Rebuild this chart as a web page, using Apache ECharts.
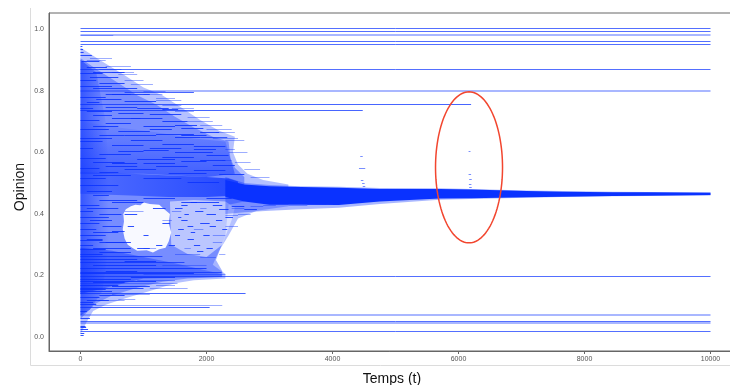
<!DOCTYPE html>
<html><head><meta charset="utf-8">
<script src="https://cdn.jsdelivr.net/npm/echarts@6/dist/echarts.min.js"></script>
<style>html,body{margin:0;padding:0;background:#fff}#c{width:730px;height:385px}</style>
</head><body><div id="c"></div>
<script>
// ---- tick labels ----
const xTicks = [0, 2000, 4000, 6000, 8000, 10000];
const yTicks = [0.0, 0.2, 0.4, 0.6, 0.8, 1.0];

// ---- persistent opinions (t = 0 .. 10000) ----
const fullStrong = [1.003, 0.993, 0.961, 0.952, 0.87, 0.198, 0.051, 0.0205];
const fullFaint = [0.979, 0.798, 0.0715, 0.0445];

// ---- long partial segments [tStart, tEnd, opinion] ----
const longStrong = [[0,6200,0.756],[0,4480,0.737],[700,1800,0.795],[0,2620,0.143],[0,2050,0.098],[1900,2330,0.649],[0,2240,0.21],[0,1650,0.243],[0,1300,0.263]];
const longFaint = [[0,520,0.982],[220,2250,0.104],[0,1540,0.175],[600,870,0.124],[1100,1700,0.16],[900,1500,0.187],[1000,2300,0.205]];

// ---- isolated late opinions ----
const lateDots = [[4440,4480,0.588],[4420,4520,0.548],[4450,4490,0.51],[4470,4510,0.50],[4480,4520,0.49],[6160,6190,0.605],[6160,6200,0.529],[6170,6210,0.512],[6165,6205,0.497],[6170,6210,0.488]];

// ---- cloud texture segments [tStart, tEnd, opinion] ----
const cloudStrong = [
 [0,180,0.915],[20,300,0.895],[100,420,0.878],[0,350,0.858],[150,600,0.845],[0,250,0.835],[300,700,0.825],[0,500,0.815],[200,900,0.808],
 [500,1100,0.788],[0,400,0.78],[250,650,0.772],[700,1200,0.768],[100,300,0.762],[400,900,0.748],[900,1400,0.745],[0,200,0.745],
 [600,1000,0.728],[1100,1600,0.725],[200,500,0.72],[0,300,0.705],[800,1300,0.71],[1300,1700,0.70],[400,800,0.695],[1000,1500,0.685],
 [1600,1950,0.68],[0,450,0.675],[600,1100,0.668],[1200,1800,0.66],[1900,2200,0.665],[300,700,0.655],[1500,1900,0.648],[800,1300,0.64],
 [0,350,0.635],[1300,1800,0.628],[500,1000,0.622],[1800,2300,0.62],[0,200,0.615],[1000,1400,0.607],[1500,2100,0.60],[300,800,0.595],
 [2000,2350,0.59],[0,400,0.582],[900,1500,0.578],[1600,2000,0.572],[500,900,0.565],[2100,2450,0.56],[1200,1700,0.555],[0,300,0.55],
 [700,1200,0.545],[1800,2300,0.542],[300,600,0.535],[1400,2000,0.532],[2200,2600,0.53],
 [0,300,0.43],[100,600,0.42],[0,200,0.41],[300,650,0.40],[0,450,0.39],[150,500,0.38],[0,300,0.37],[350,650,0.36],[0,250,0.35],
 [200,600,0.34],[0,400,0.33],[100,350,0.32],[300,700,0.31],[0,200,0.30],[200,800,0.29],[0,400,0.285],
 [1500,1620,0.42],[1600,1700,0.38],[1550,1640,0.35],[1820,1950,0.41],[1900,2050,0.37],[1700,1800,0.32],[2000,2150,0.40],[2100,2250,0.43],
 [1400,1500,0.30],[2200,2350,0.415],[2300,2420,0.39],[1750,1850,0.44],[2400,2600,0.425],[2600,2800,0.415],
 [0,800,0.19],[0,1200,0.183],[0,600,0.17],[0,1000,0.16],[0,500,0.15],[0,300,0.13],[0,200,0.115],[0,900,0.255],[200,1200,0.235],[0,2000,0.225],[0,1800,0.207],
 [0,100,0.085],[0,150,0.062],[0,80,0.035],[0,120,0.028],[0,60,0.012],[0,90,0.033],[0,50,0.007],[0,30,0.945],[0,40,0.935],[0,50,0.925],
 [700,900,0.40],[750,850,0.36],[1150,1350,0.42],[1300,1420,0.37],[900,1100,0.29],[1200,1300,0.30],[1000,1080,0.33],
 [1600,1700,0.43],[1650,1720,0.40],[1700,1790,0.36],[1750,1820,0.34],[1800,1900,0.30],[1950,2050,0.33],[2050,2150,0.36],
 [2150,2250,0.38],[2250,2330,0.35],[1850,1950,0.28],[2000,2100,0.29],[1500,1580,0.33],[1550,1600,0.39],
 [200,700,0.86],[400,800,0.79],[1300,1550,0.74],[100,500,0.735],[500,950,0.71],[1500,1850,0.69],[200,600,0.685],[1100,1450,0.675],
 [700,1200,0.655],[1600,2000,0.655],[0,500,0.645],[1100,1600,0.615],[600,1000,0.605],[1800,2150,0.61],[200,700,0.57],[1300,1800,0.585],
 [1900,2300,0.575],[400,900,0.555],[1000,1500,0.565],[200,800,0.525],[1000,1600,0.515],[1700,2200,0.505],[300,900,0.445],[1000,1500,0.45],
 [1600,2200,0.44],[2000,2400,0.45],[500,1000,0.44],[0,350,0.27],[300,800,0.275],[700,1200,0.248],[400,900,0.215],[800,1500,0.195],
 [200,700,0.178],[500,1100,0.165],[0,400,0.155],[300,700,0.138],[100,450,0.12],[0,250,0.108],[400,800,0.31],[500,700,0.345],[0,350,0.315],
 [0,600,0.495],[100,500,0.475],[0,400,0.515],[200,450,0.46]
];
const cloudFaint = [
 [400,800,0.88],[700,1000,0.835],[1000,1300,0.79],[1300,1600,0.755],[1500,1800,0.735],[1700,2100,0.70],[2000,2400,0.675],[2100,2500,0.645],
 [150,500,0.905],[600,900,0.855],[1200,1500,0.775],[2300,2450,0.61],[2250,2400,0.575],[700,1000,0.41],[1300,1450,0.38],[1000,1200,0.29],
 [1500,1900,0.27],[1900,2150,0.26],[2100,2300,0.33],[2300,2500,0.36],[500,1100,0.14],[300,700,0.12],[1200,1500,0.17],[1300,2000,0.235],
 [100,400,0.9],[300,650,0.87],[500,850,0.86],[800,1150,0.82],[1000,1350,0.80],[1200,1600,0.77],[1450,1800,0.745],[1700,2050,0.715],
 [1900,2250,0.69],[2150,2450,0.665],[2300,2600,0.64],[2350,2650,0.6],[2450,2700,0.57],[2600,2850,0.545],[2700,3000,0.52],
 [2400,2600,0.42],[2700,2900,0.425],[2900,3100,0.43],[3000,3300,0.435],[2500,2700,0.40],[2300,2500,0.395],[3300,3600,0.43],[3600,3900,0.432],
 [1450,1600,0.41],[1800,1950,0.35],[2100,2250,0.31],[1650,1750,0.29],[2200,2300,0.27],[1900,2000,0.42]
];

// ---- density envelopes [t, opinion] ----
const cloudOuter = [[0,0.94],[300,0.90],[700,0.85],[1000,0.81],[1300,0.785],[1600,0.745],[1900,0.705],[2200,0.67],[2450,0.65],[2420,0.60],[2500,0.56],[2650,0.53],[2900,0.51],[3300,0.495],[3300,0.425],[2800,0.41],[2500,0.385],[2350,0.33],[2200,0.28],[2100,0.235],[2300,0.205],[2300,0.19],[1800,0.185],[1500,0.175],[1100,0.15],[700,0.125],[400,0.105],[200,0.085],[100,0.05],[0,0.01]];
const cloudMid = [[0,0.905],[250,0.87],[600,0.825],[900,0.785],[1200,0.755],[1500,0.715],[1800,0.68],[2100,0.65],[2350,0.635],[2380,0.58],[2450,0.55],[2600,0.52],[2600,0.44],[2350,0.43],[2300,0.33],[2150,0.25],[2250,0.215],[2250,0.195],[1700,0.19],[1300,0.18],[900,0.16],[500,0.135],[250,0.11],[100,0.08],[0,0.06]];
const coreBand = [[0,0.535],[800,0.53],[1400,0.525],[2000,0.52],[2350,0.515],[2500,0.505],[2500,0.46],[2000,0.455],[1400,0.455],[800,0.46],[0,0.465]];
const upperDense = [[0,0.70],[600,0.68],[1200,0.665],[1800,0.645],[2300,0.635],[2380,0.58],[2450,0.53],[2000,0.52],[1000,0.53],[0,0.53]];
const leftColumn = [[0,0.90],[250,0.86],[400,0.70],[450,0.55],[450,0.30],[350,0.15],[150,0.09],[0,0.07]];
const lowerDense = [[0,0.29],[500,0.28],[1000,0.26],[1500,0.24],[2240,0.205],[2240,0.195],[1000,0.19],[500,0.165],[0,0.14]];
const cloudHoles = [[680,0.40],[720,0.415],[800,0.425],[870,0.43],[950,0.428],[1000,0.437],[1100,0.432],[1250,0.43],[1330,0.415],[1420,0.40],[1400,0.37],[1440,0.34],[1400,0.31],[1350,0.29],[1250,0.285],[1150,0.275],[1050,0.282],[900,0.28],[820,0.29],[750,0.30],[700,0.32],[670,0.35],[690,0.375]];
const cloudSparse = [[1420,0.44],[1800,0.445],[2300,0.44],[2450,0.42],[2400,0.38],[2250,0.30],[2000,0.26],[1700,0.27],[1440,0.30]];

// ---- consensus band ----
const bandT   = [2300, 2600, 3000, 3500, 4100, 4750, 5700, 6200, 7080, 7650, 8450, 9000, 10000];
const bandTop = [0.51, 0.495, 0.49, 0.487, 0.485, 0.481, 0.481, 0.479, 0.474, 0.472, 0.470, 0.470, 0.469];
const bandBot = [0.455, 0.44, 0.43, 0.43, 0.429, 0.44, 0.45, 0.451, 0.454, 0.456, 0.458, 0.459, 0.461];
const fringeTop = [0.52, 0.50, 0.494, 0.49, 0.488, 0.484, 0.483, 0.481, 0.476, 0.474, 0.472, 0.471, 0.470];
const fringeBot = [0.40, 0.405, 0.41, 0.415, 0.42, 0.432, 0.446, 0.448, 0.452, 0.455, 0.457, 0.458, 0.460];

// ---- annotation ellipse (centre in data units) ----
const ellipseCenter = [6167, 0.551];

const rgba = a => 'rgba(10,50,255,' + a + ')';
const grad = (x2, y2, a0, a1) => new echarts.graphic.LinearGradient(0, 0, x2, y2, [{ offset: 0, color: rgba(a0) }, { offset: 1, color: rgba(a1) }]);

function polySeries(polys, fill, z) {
  return {
    type: 'custom', coordinateSystem: 'cartesian2d', silent: true, z: z, clip: true,
    data: polys.map((p, i) => [i, 0]),
    renderItem: (params, api) => {
      const poly = polys[api.value(0)];
      return { type: 'polygon', shape: { points: poly.map(pt => api.coord(pt)) }, style: { fill: fill } };
    }
  };
}
function segSeries(segs, color, width, z) {
  return {
    type: 'custom', coordinateSystem: 'cartesian2d', silent: true, z: z, clip: true,
    data: segs, encode: { x: [0, 1], y: 2 },
    renderItem: (params, api) => {
      const a = api.coord([api.value(0), api.value(2)]);
      const b = api.coord([api.value(1), api.value(2)]);
      const y = width % 2 === 1 ? Math.round(a[1]) + 0.5 : Math.round(a[1]);
      return { type: 'line', shape: { x1: a[0], y1: y, x2: Math.max(b[0], a[0] + 1.5), y2: y }, style: { stroke: color, lineWidth: width } };
    }
  };
}
const bandPoly = bandT.map((t, i) => [t, bandTop[i]]).concat(bandT.map((t, i) => [t, bandBot[i]]).reverse());
const fringePoly = bandT.map((t, i) => [t, fringeTop[i]]).concat(bandT.map((t, i) => [t, fringeBot[i]]).reverse());

const chart = echarts.init(document.getElementById('c'), null, { renderer: 'canvas' });
const axisCommonLabel = { color: '#555', fontSize: 7, fontFamily: 'Liberation Sans' };
chart.setOption({
  animation: false,
  backgroundColor: '#fff',
  grid: { left: 49, top: 13, width: 693, height: 338, show: true, borderColor: '#666', borderWidth: 1, backgroundColor: 'transparent', containLabel: false, outerBoundsMode: 'none' },
  xAxis: {
    type: 'value', min: -500, max: 10500,
    axisLine: { onZero: false, lineStyle: { color: '#666' } },
    axisTick: { show: true, length: 3, lineStyle: { color: '#666' }, customValues: xTicks },
    axisLabel: Object.assign({ margin: 5, customValues: xTicks, formatter: v => String(v) }, axisCommonLabel),
    splitLine: { show: false }
  },
  yAxis: {
    type: 'value', min: -0.045, max: 1.052,
    axisLine: { show: true, onZero: false, lineStyle: { color: '#666' } },
    axisTick: { show: false, customValues: yTicks },
    axisLabel: Object.assign({ margin: 5, customValues: yTicks, formatter: v => v.toFixed(1) }, axisCommonLabel),
    splitLine: { show: false }
  },
  series: [
    polySeries([cloudOuter], rgba(0.3), 1),
    polySeries([cloudMid], rgba(0.36), 2),
    polySeries([leftColumn], grad(1, 0, 0.6, 0), 3),
    polySeries([upperDense], grad(0, 1, 0.05, 0.5), 3),
    polySeries([lowerDense], grad(1, 0, 0.5, 0.3), 3),
    polySeries([coreBand], grad(1, 0, 0.35, 0.75), 3),
    polySeries([cloudSparse], 'rgba(255,255,255,0.5)', 4),
    polySeries([cloudHoles], 'rgba(255,255,255,0.95)', 5),
    polySeries([fringePoly], rgba(0.35), 6),
    polySeries([bandPoly], rgba(1), 7),
    segSeries(cloudFaint, rgba(0.4), 1, 8),
    segSeries(cloudStrong, rgba(0.85), 1, 9),
    segSeries(longFaint, rgba(0.4), 1, 10),
    segSeries(longStrong, rgba(0.75), 1, 11),
    segSeries(fullFaint.map(v => [0, 10000, v]), rgba(0.35), 2, 12),
    segSeries(fullStrong.map(v => [0, 10000, v]), rgba(0.7), 1, 13),
    segSeries(lateDots, rgba(0.55), 1, 14),
    {
      type: 'custom', coordinateSystem: 'cartesian2d', silent: true, z: 20, clip: false,
      data: [ellipseCenter],
      renderItem: (params, api) => {
        const c = api.coord([api.value(0), api.value(1)]);
        const pts = [];
        for (let k = 0; k < 120; k++) { const a = k / 120 * Math.PI * 2; pts.push([c[0] + 33.5 * Math.cos(a), c[1] + 75.5 * Math.sin(a)]); }
        return { type: 'polygon', shape: { points: pts }, style: { fill: 'none', stroke: '#f2462f', lineWidth: 1.5 } };
      }
    }
  ],
  graphic: [
    { type: 'line', shape: { x1: 30.5, y1: 8, x2: 30.5, y2: 365.5 }, style: { stroke: '#dcdcdc', lineWidth: 1 }, silent: true },
    { type: 'line', shape: { x1: 30.5, y1: 365.5, x2: 730, y2: 365.5 }, style: { stroke: '#dcdcdc', lineWidth: 1 }, silent: true },
    { type: 'text', x: 20, y: 187, rotation: Math.PI / 2, style: { text: 'Opinion', fontSize: 14, fontFamily: 'Liberation Sans', fill: '#111', textAlign: 'center', textVerticalAlign: 'middle' } },
    { type: 'text', x: 392, y: 379, style: { text: 'Temps (t)', fontSize: 14, fontFamily: 'Liberation Sans', fill: '#111', textAlign: 'center', textVerticalAlign: 'middle' } }
  ]
});
</script></body></html>
